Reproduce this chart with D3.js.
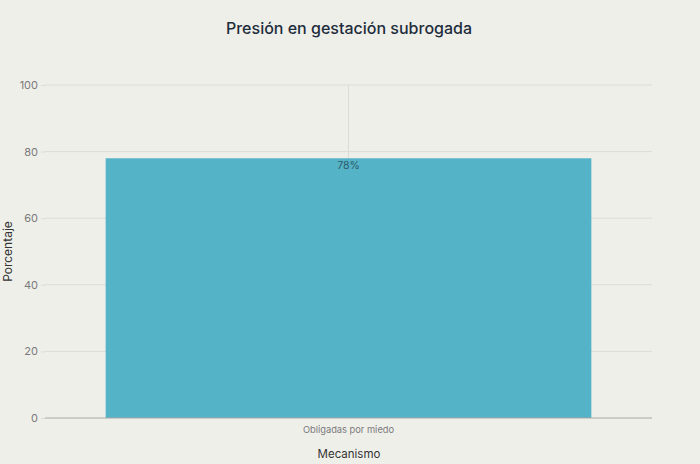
<!DOCTYPE html>
<html><head><meta charset="utf-8">
<script src="https://cdn.jsdelivr.net/npm/d3@7"></script>
<style>
html,body{margin:0;padding:0;background:#efefea;}
text{font-family:"Inter","Roboto","Liberation Sans",sans-serif;}
</style></head>
<body>
<svg id="c" width="700" height="464"></svg>
<script>
const categories = ["Obligadas por miedo"];
const values = [78];
const yTicks = [0, 20, 40, 60, 80, 100];
const title = "Presión en gestación subrogada";
const xTitle = "Mecanismo";
const yTitle = "Porcentaje";

const svg = d3.select("#c");
const W = 700, H = 464;
const m = {left: 45, right: 48, top: 85, bottom: 46};
const x = d3.scaleBand().domain(categories).range([m.left, W - m.right]).paddingInner(0.111).paddingOuter(0.111);
const y = d3.scaleLinear().domain([0, 100]).range([H - m.bottom, m.top]);

svg.append("rect").attr("width", W).attr("height", H).attr("fill", "#efefea");

// gridlines
svg.append("g").selectAll("line").data(yTicks.filter(d => d > 0)).join("line")
  .attr("x1", m.left).attr("x2", W - m.right)
  .attr("y1", d => y(d)).attr("y2", d => y(d))
  .attr("stroke", "#dcdcd6").attr("stroke-width", 1);
svg.append("g").selectAll("line").data(categories).join("line")
  .attr("x1", d => x(d) + x.bandwidth() / 2).attr("x2", d => x(d) + x.bandwidth() / 2)
  .attr("y1", y(100)).attr("y2", y(0))
  .attr("stroke", "#dcdcd6").attr("stroke-width", 1);

// y axis
const ya = svg.append("g").attr("transform", `translate(${m.left},0)`)
  .call(d3.axisLeft(y).tickValues(yTicks).tickSize(4).tickPadding(3));
ya.select(".domain").remove();
ya.selectAll(".tick line").attr("stroke", "#dcdcd6");
ya.selectAll(".tick text").attr("fill", "#7a7a7a").attr("font-size", 11);

// bars
svg.append("g").selectAll("rect").data(values).join("rect")
  .attr("x", (d, i) => x(categories[i])).attr("width", x.bandwidth())
  .attr("y", d => y(d)).attr("height", d => y(0) - y(d))
  .attr("fill", "#55b3c8");

// zero line
svg.append("line").attr("x1", m.left).attr("x2", W - m.right)
  .attr("y1", y(0)).attr("y2", y(0)).attr("stroke", "#a8a8a4").attr("stroke-width", 1.2);

// value labels
svg.append("g").selectAll("text").data(values).join("text")
  .attr("x", (d, i) => x(categories[i]) + x.bandwidth() / 2)
  .attr("y", d => y(d) + 11)
  .attr("text-anchor", "middle").attr("font-size", 10.5)
  .attr("fill", "#2d5b69").text(d => d + "%");

// x axis
const xa = svg.append("g").attr("transform", `translate(0,${y(0)})`)
  .call(d3.axisBottom(x).tickSize(0).tickPadding(8));
xa.select(".domain").remove();
xa.selectAll(".tick text").attr("fill", "#7a7a7a").attr("font-size", 9.3);

// titles
svg.append("text").attr("x", 349).attr("y", 34).attr("text-anchor", "middle")
  .attr("font-size", 16).attr("font-weight", 500).attr("fill", "#1e2d3b").text(title);
svg.append("text").attr("x", 349).attr("y", 458).attr("text-anchor", "middle")
  .attr("font-size", 11.5).attr("fill", "#333").text(xTitle);
svg.append("text").attr("transform", `translate(12,${(y(0) + y(100)) / 2}) rotate(-90)`)
  .attr("text-anchor", "middle").attr("font-size", 12).attr("fill", "#333").text(yTitle);
</script>
</body></html>
